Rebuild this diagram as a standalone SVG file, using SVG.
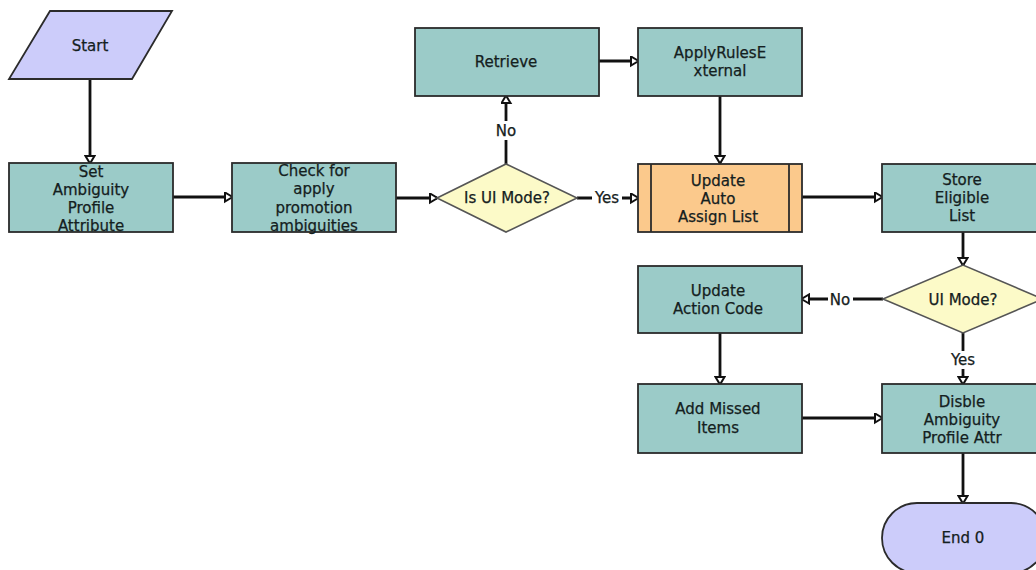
<svg xmlns="http://www.w3.org/2000/svg" width="1036" height="570" viewBox="0 0 1036 570">
<style>
.t{font-family:"DejaVu Sans",Verdana,sans-serif;font-size:15px;fill:#142020;stroke:#142020;stroke-width:0.25;text-anchor:middle;dominant-baseline:central}
.task{fill:#9BCBC8;stroke:#2b2b2b;stroke-width:1.8}
.term{fill:#CCCCFA;stroke:#2b2b2b;stroke-width:1.8}
.dec{fill:#FCFAC8;stroke:#555;stroke-width:1.6}
.sub{fill:#FBC98C;stroke:#2b2b2b;stroke-width:1.8}
.c{fill:none;stroke:#111;stroke-width:2.8;marker-end:url(#ah)}
.lb{fill:#fff}
</style>
<defs>
<marker id="ah" markerUnits="userSpaceOnUse" markerWidth="12" markerHeight="12" refX="8" refY="5.5" orient="auto">
<path d="M1,1 L8.5,5.5 L1,10 z" fill="#fff" stroke="#111" stroke-width="2"/>
</marker>
</defs>
<g id="connectors">
<path class="c" d="M90,79 V163"/>
<path class="c" d="M173,197 H232"/>
<path class="c" d="M396,198 H437"/>
<path class="c" d="M506,164 V96"/>
<path class="c" d="M599,61 H638"/>
<path class="c" d="M720,96 V163"/>
<path class="c" d="M577,198 H638"/>
<path class="c" d="M802,197 H882"/>
<path class="c" d="M963,232 V265"/>
<path class="c" d="M883,299 H802"/>
<path class="c" d="M963,333 V384"/>
<path class="c" d="M720,333 V384"/>
<path class="c" d="M802,418 H882"/>
<path class="c" d="M963,453 V503"/>
<rect class="lb" x="494" y="121" width="24" height="19"/>
<text class="t" x="506" y="131">No</text>
<rect class="lb" x="592" y="189" width="30" height="18"/>
<text class="t" x="607" y="198">Yes</text>
<rect class="lb" x="828" y="291" width="25" height="18"/>
<text class="t" x="840" y="300">No</text>
<rect class="lb" x="948" y="351" width="30" height="18"/>
<text class="t" x="963" y="360">Yes</text>
</g>
<g id="start">
<polygon class="term" points="50,11 172,11 132,79 9,79"/>
<text class="t" x="90" y="46">Start</text>
</g>
<g id="set-ambiguity">
<rect class="task" x="9" y="163" width="164" height="69"/>
<text class="t" x="91" y="172">Set</text>
<text class="t" x="91" y="190">Ambiguity</text>
<text class="t" x="91" y="208">Profile</text>
<text class="t" x="91" y="226">Attribute</text>
</g>
<g id="check-promotion">
<rect class="task" x="232" y="163" width="164" height="69"/>
<text class="t" x="314" y="171">Check for</text>
<text class="t" x="314" y="189">apply</text>
<text class="t" x="314" y="208">promotion</text>
<text class="t" x="314" y="226">ambiguities</text>
</g>
<g id="is-ui-mode">
<polygon class="dec" points="437,198 506,164 577,198 506,232"/>
<text class="t" x="507" y="198">Is UI Mode?</text>
</g>
<g id="retrieve">
<rect class="task" x="415" y="28" width="184" height="68"/>
<text class="t" x="506" y="62">Retrieve</text>
</g>
<g id="apply-rules">
<rect class="task" x="638" y="28" width="164" height="68"/>
<text class="t" x="720" y="53">ApplyRulesE</text>
<text class="t" x="720" y="71">xternal</text>
</g>
<g id="update-auto-assign">
<rect class="sub" x="638" y="164" width="164" height="68"/>
<line x1="651" y1="164" x2="651" y2="232" stroke="#2b2b2b" stroke-width="1.8"/>
<line x1="789" y1="164" x2="789" y2="232" stroke="#2b2b2b" stroke-width="1.8"/>
<text class="t" x="718" y="181">Update</text>
<text class="t" x="718" y="199">Auto</text>
<text class="t" x="718" y="217">Assign List</text>
</g>
<g id="store-eligible">
<rect class="task" x="882" y="164" width="164" height="68"/>
<text class="t" x="962" y="180">Store</text>
<text class="t" x="962" y="198">Eligible</text>
<text class="t" x="962" y="216">List</text>
</g>
<g id="ui-mode">
<polygon class="dec" points="883,299 963,265 1043,299 963,333"/>
<text class="t" x="963" y="300">UI Mode?</text>
</g>
<g id="update-action-code">
<rect class="task" x="638" y="266" width="164" height="67"/>
<text class="t" x="718" y="291">Update</text>
<text class="t" x="718" y="309">Action Code</text>
</g>
<g id="add-missed">
<rect class="task" x="638" y="384" width="164" height="69"/>
<text class="t" x="718" y="409">Add Missed</text>
<text class="t" x="718" y="428">Items</text>
</g>
<g id="disable-ambiguity">
<rect class="task" x="882" y="384" width="164" height="69"/>
<text class="t" x="962" y="402">Disble</text>
<text class="t" x="962" y="420">Ambiguity</text>
<text class="t" x="962" y="438">Profile Attr</text>
</g>
<g id="end">
<rect class="term" x="882" y="503" width="164" height="70" rx="35" ry="35"/>
<text class="t" x="963" y="538">End 0</text>
</g>
</svg>
